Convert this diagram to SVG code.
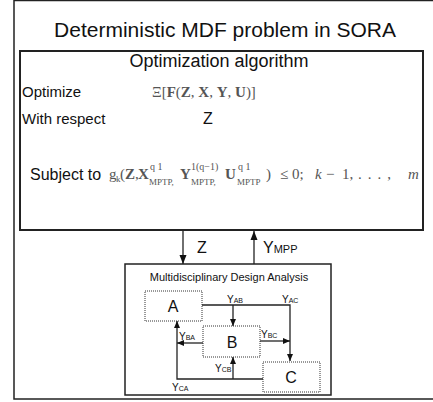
<svg xmlns="http://www.w3.org/2000/svg" width="433" height="402" viewBox="0 0 433 402">
<style>
.frame{fill:#fff;stroke:#222;stroke-width:1.5}
.box{fill:#fff;stroke:#222;stroke-width:2}
.mda{fill:#fff;stroke:#222;stroke-width:1.5}
.dot{fill:#fff;stroke:#333;stroke-width:1;stroke-dasharray:1 1}
.sans{font-family:"Liberation Sans",Arial,sans-serif;fill:#111}
.fm{font-family:"Liberation Serif","Times New Roman",serif;fill:#555}
.b{font-weight:bold}
.conn{fill:none;stroke:#222;stroke-width:1.3}
.big{fill:none;stroke:#222;stroke-width:1.3}
</style>
<defs>
<marker id="ah" markerUnits="userSpaceOnUse" markerWidth="8" markerHeight="8" refX="7" refY="4" orient="auto">
<path d="M0,1 L7,4 L0,7 Z" fill="#111"/>
</marker>
<marker id="ahb" markerUnits="userSpaceOnUse" markerWidth="10" markerHeight="10" refX="9" refY="4" orient="auto">
<path d="M0,0.5 L9,4 L0,7.5 Z" fill="#111"/>
</marker>
</defs>
<rect x="0" y="0" width="433" height="402" fill="#fff"/>
<rect class="frame" x="14" y="0.5" width="430" height="398.5"/>
<text class="sans" x="225" y="37" font-size="21" text-anchor="middle">Deterministic MDF problem in SORA</text>

<g id="optimization">
<rect class="box" x="20" y="51" width="403" height="179"/>
<text class="sans" x="219" y="67" font-size="18" text-anchor="middle">Optimization algorithm</text>
<text class="sans" x="22" y="97" font-size="15">Optimize</text>
<text class="fm" x="152" y="97" font-size="15">Ξ[<tspan class="b">F</tspan>(<tspan class="b">Z</tspan>, <tspan class="b">X</tspan>, <tspan class="b">Y</tspan>, <tspan class="b">U</tspan>)]</text>
<text class="sans" x="22" y="124" font-size="15">With respect</text>
<text class="sans" x="203" y="124" font-size="16">Z</text>
<text class="sans" x="30" y="180" font-size="16">Subject to</text>
<g class="fm">
<text x="109" y="179" font-size="15">g</text>
<text x="116" y="182" font-size="9">k</text>
<text x="120" y="179" font-size="15">(</text>
<text x="125" y="179" font-size="15" class="b">Z</text>
<text x="135" y="179" font-size="15">,</text>
<text x="138" y="179" font-size="15" class="b">X</text>
<text x="150" y="170" font-size="10">q 1</text>
<text x="149" y="185" font-size="9">MPTP,</text>
<text x="180" y="179" font-size="15" class="b">Y</text>
<text x="191" y="170" font-size="10">1(q−1)</text>
<text x="191" y="185" font-size="9">MPTP,</text>
<text x="225" y="179" font-size="15" class="b">U</text>
<text x="238" y="170" font-size="10">q 1</text>
<text x="237" y="185" font-size="9">MPTP</text>
<text x="266" y="179" font-size="15">)</text>
<text x="280" y="179" font-size="15">≤</text>
<text x="292" y="179" font-size="15">0;</text>
<text x="315" y="179" font-size="15" font-style="italic">k</text>
<text x="326" y="179" font-size="15">−</text>
<text x="342" y="179" font-size="15">1,</text>
<text x="358" y="179" font-size="15" letter-spacing="6">...,</text>
<text x="408" y="179" font-size="15" font-style="italic">m</text>
</g>
</g>

<g id="mda">
<rect class="mda" x="125" y="264" width="206" height="131"/>
<text class="sans" x="229" y="281" font-size="11" text-anchor="middle" fill="#333">Multidisciplinary Design Analysis</text>
</g>
<g id="nodeA">
<rect class="dot" x="145" y="291" width="57" height="30"/>
<text class="sans" x="173" y="312" font-size="16" text-anchor="middle">A</text>
</g>
<g id="nodeB">
<rect class="dot" x="203" y="326" width="57" height="31"/>
<text class="sans" x="232" y="348" font-size="16" text-anchor="middle">B</text>
</g>
<g id="nodeC">
<rect class="dot" x="263" y="362" width="57" height="30"/>
<text class="sans" x="291" y="383" font-size="16" text-anchor="middle">C</text>
</g>

<g id="connectors">
<line class="big" x1="183" y1="231" x2="183" y2="264" marker-end="url(#ahb)"/>
<line class="big" x1="254" y1="264" x2="254" y2="231" marker-end="url(#ahb)"/>
<text class="sans" x="197" y="253" font-size="16">Z</text>
<text class="sans" x="263" y="253" font-size="16">Y<tspan font-size="11">MPP</tspan></text>

<path class="conn" d="M202,305 H290 V361" marker-end="url(#ah)"/>
<path class="conn" d="M233,305 V326" marker-end="url(#ah)"/>
<path class="conn" d="M260,341 H290" marker-end="url(#ah)"/>
<path class="conn" d="M203,343 H177" marker-end="url(#ah)"/>
<path class="conn" d="M263,379 H177 V321" marker-end="url(#ah)"/>
<path class="conn" d="M233,379 V357" marker-end="url(#ah)"/>

<text class="sans" x="227" y="303" font-size="10">Y<tspan font-size="7">AB</tspan></text>
<text class="sans" x="282" y="303" font-size="10">Y<tspan font-size="7">AC</tspan></text>
<text class="sans" x="261" y="338" font-size="10">Y<tspan font-size="7">BC</tspan></text>
<text class="sans" x="179" y="340" font-size="10">Y<tspan font-size="7">BA</tspan></text>
<text class="sans" x="215" y="372" font-size="10">Y<tspan font-size="7">CB</tspan></text>
<text class="sans" x="172" y="391" font-size="10">Y<tspan font-size="7">CA</tspan></text>
</g>
</svg>
